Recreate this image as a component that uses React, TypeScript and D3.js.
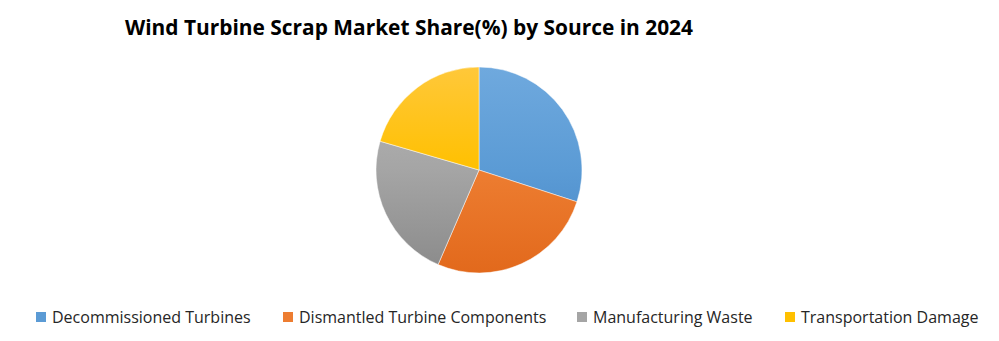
import React from "react";
import * as d3 from "d3";

const categories = ["Decommissioned Turbines", "Dismantled Turbine Components", "Manufacturing Waste", "Transportation Damage"];
const shares = [30, 26.5, 23, 20.5];
const baseColors = ["#5b9bd5", "#ed7d31", "#a5a5a5", "#ffc000"];
const topColors = ["#6fa9de", "#f4954f", "#b8b8b8", "#ffc83a"];
const bottomColors = ["#4585c6", "#e2691c", "#8a8a8a", "#e5ad00"];
const title = "Wind Turbine Scrap Market Share(%) by Source in 2024";

const W = 999;
const H = 341;

export default function App() {
  const cx = 479;
  const cy = 170;
  const r = 103;
  const pie = d3.pie<number>().sort(null).value((d) => d)(shares);
  const arc = d3.arc<d3.PieArcDatum<number>>().innerRadius(0).outerRadius(r);
  const legendX = [36, 283, 577, 785];
  return (
    <svg width={W} height={H} style={{ position: "absolute", left: 0, top: 0, background: "#fff" }}>
      <defs>
        {baseColors.map((c, i) => (
          <linearGradient key={i} id={`g${i}`} gradientUnits="userSpaceOnUse" x1={0} y1={-r} x2={0} y2={r}>
            <stop offset="0%" stopColor={topColors[i]} />
            <stop offset="50%" stopColor={c} />
            <stop offset="100%" stopColor={bottomColors[i]} />
          </linearGradient>
        ))}
      </defs>
      <rect width={W} height={H} fill="#fff" />
      <text x={409} y={35} textAnchor="middle" fontFamily="Open Sans, sans-serif" fontWeight="bold" fontSize={20.9} fill="#000">
        {title}
      </text>
      <g transform={`translate(${cx},${cy})`}>
        {pie.map((p, i) => (
          <path key={i} d={arc(p) || ""} fill={`url(#g${i})`} stroke="#fff" strokeWidth={0.6} strokeOpacity={0.8} />
        ))}
      </g>
      <g>
        {categories.map((c, i) => (
          <g key={c}>
            <rect x={legendX[i]} y={312} width={10} height={10} fill={baseColors[i]} />
            <text x={legendX[i] + 16} y={323} fontFamily="Open Sans, sans-serif" fontSize={16} fill="#262626">
              {c}
            </text>
          </g>
        ))}
      </g>
    </svg>
  );
}
